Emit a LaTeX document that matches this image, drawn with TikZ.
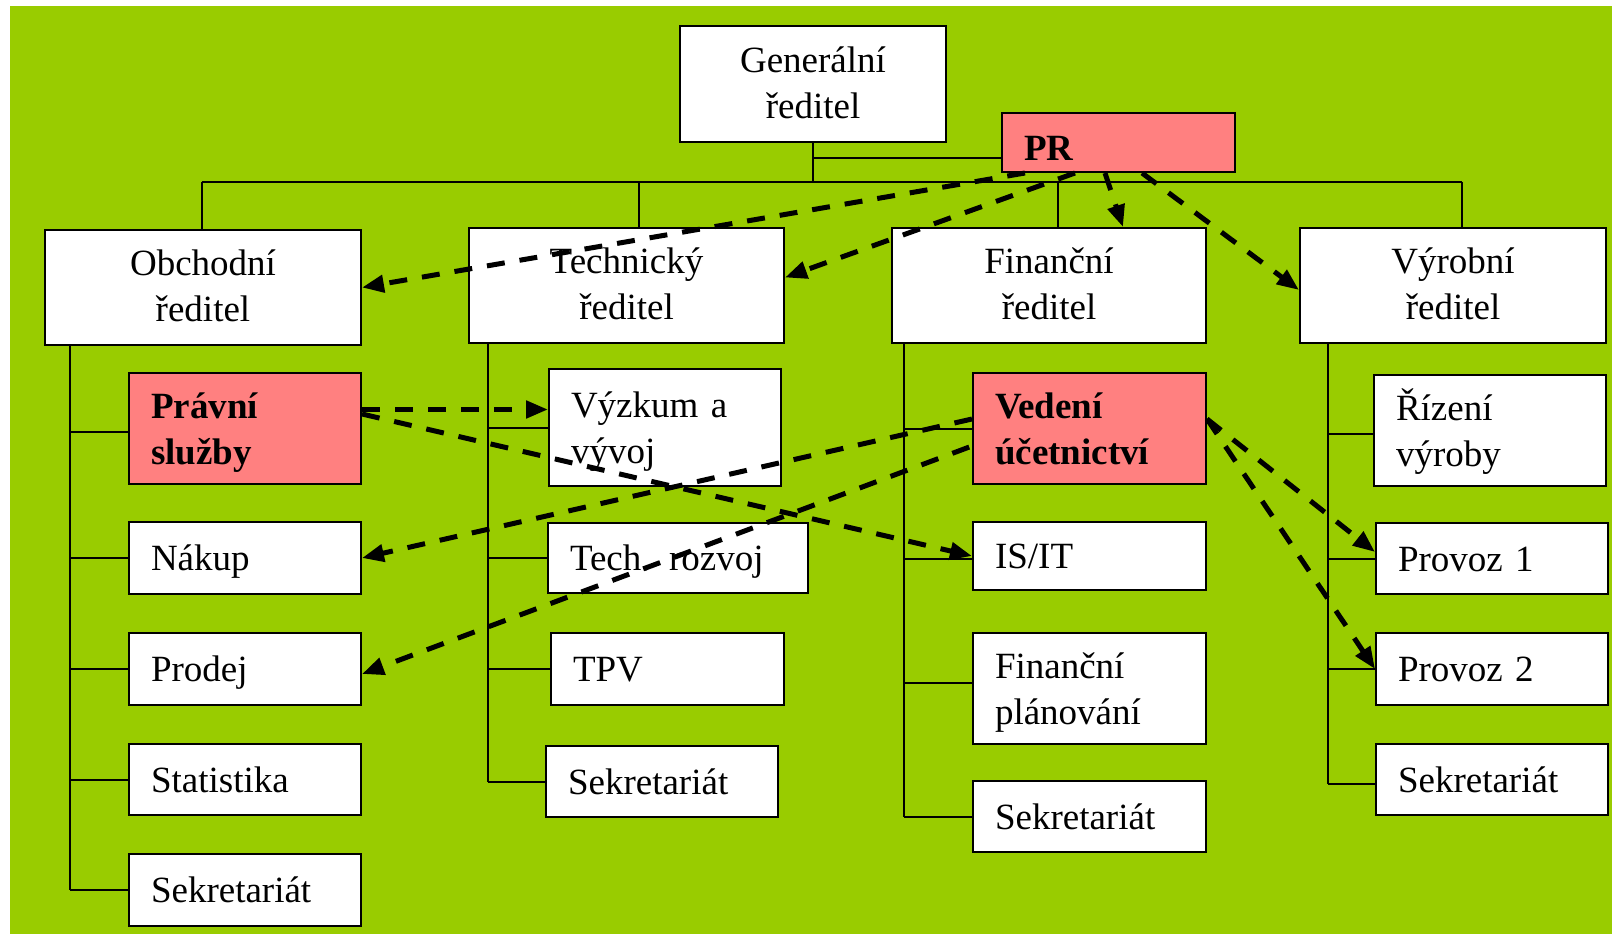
\documentclass[tikz,border=0pt]{standalone}
\usepackage{fontspec}
\setmainfont{Liberation Serif}
\usetikzlibrary{arrows.meta}
\definecolor{orgbg}{HTML}{99CC00}
\definecolor{orgpink}{HTML}{FF8080}
% fixed line struts so that every box places its baselines the same way
\newcommand\boxstrut{\rule[-8pt]{0pt}{41pt}}
\newcommand\headstrut{\rule[-3pt]{0pt}{41pt}}
\begin{document}
\begin{tikzpicture}[x=1pt,y=-1pt,
  every node/.style={font=\fontsize{37}{46}\selectfont},
  headbox/.style={draw, line width=2pt, fill=white, anchor=north west, inner sep=0pt, align=center,
    execute at begin node=\headstrut, execute at end node=\headstrut},
  unitbox/.style={draw, line width=2pt, fill=white, anchor=north west, inner xsep=22pt, inner ysep=0pt, align=left,
    execute at begin node=\boxstrut, execute at end node=\boxstrut},
  keybox/.style={unitbox, fill=orgpink, font=\fontsize{37}{46}\selectfont\bfseries},
  link/.style={line width=2pt},
  influence/.style={line width=5pt, dash pattern=on 18pt off 15pt, -{Triangle[length=22pt,width=17pt]}}
]
% canvas and background
\useasboundingbox (0,0) rectangle (1612,936);
\fill[white] (0,0) rectangle (1612,936);
\fill[orgbg] (10,6) rectangle (1612,934);

% bus and spine coordinates
\coordinate (jOb) at (201.5,182);
\coordinate (jTe) at (639,182);
\coordinate (jFi) at (1058,182);
\coordinate (jVy) at (1461.5,182);
\coordinate (xOb) at (70,0);
\coordinate (xTe) at (488,0);
\coordinate (xFi) at (904,0);
\coordinate (xVy) at (1328,0);

% top level
\node[headbox, minimum width=266pt, minimum height=116pt] (gr) at (679,25) {Generální\\ředitel};
\node[keybox, text width=189pt, minimum height=59pt,
  execute at begin node={}, execute at end node={}, text height=36pt, text depth=0pt] (pr) at (1001,112) {PR};

% directors
\node[headbox, minimum width=316pt, minimum height=115pt] (ob) at (44,229) {Obchodní\\ředitel};
\node[headbox, minimum width=315pt, minimum height=115pt] (te) at (468,227) {Technický\\ředitel};
\node[headbox, minimum width=314pt, minimum height=115pt] (fi) at (891,227) {Finanční\\ředitel};
\node[headbox, minimum width=306pt, minimum height=115pt] (vy) at (1299,227) {Výrobní\\ředitel};

% sales
\node[keybox, text width=188pt, minimum height=111pt] (prav) at (128,372) {Právní\\služby};
\node[unitbox, text width=188pt, minimum height=72pt] (nak) at (128,521) {Nákup};
\node[unitbox, text width=188pt, minimum height=72pt] (prod) at (128,632) {Prodej};
\node[unitbox, text width=188pt, minimum height=71pt] (stat) at (128,743) {Statistika};
\node[unitbox, text width=188pt, minimum height=72pt] (sek1) at (128,853) {Sekretariát};

% technical
\node[unitbox, text width=188pt, minimum height=117pt] (vyz) at (548,368) {Výzkum a\\vývoj};
\node[unitbox, text width=216pt, minimum height=70pt] (tro) at (547,522) {Tech. rozvoj};
\node[unitbox, text width=189pt, minimum height=72pt] (tpv) at (550,632) {TPV};
\node[unitbox, text width=188pt, minimum height=71pt] (sek2) at (545,745) {Sekretariát};

% finance
\node[keybox, text width=189pt, minimum height=111pt] (ved) at (972,372) {Vedení\\účetnictví};
\node[unitbox, text width=189pt, minimum height=68pt] (isit) at (972,521) {IS/IT};
\node[unitbox, text width=189pt, minimum height=111pt] (fpl) at (972,632) {Finanční\\plánování};
\node[unitbox, text width=189pt, minimum height=71pt] (sek3) at (972,780) {Sekretariát};

% production
\node[unitbox, text width=188pt, minimum height=111pt] (riz) at (1373,374) {Řízení\\výroby};
\node[unitbox, text width=188pt, minimum height=71pt] (pv1) at (1375,522) {Provoz 1};
\node[unitbox, text width=188pt, minimum height=72pt] (pv2) at (1375,632) {Provoz 2};
\node[unitbox, text width=188pt, minimum height=71pt] (sek4) at (1375,743) {Sekretariát};

% solid hierarchy lines
\coordinate (jPr) at ([yshift=-15pt]gr.south);
\draw[link] (gr.south) -- (gr.south |- jOb);
\draw[link] (jPr) -- (jPr -| pr.west);
\draw[link] (jOb) -- (jVy);
\draw[link] (jOb) -- (jOb |- ob.north);
\draw[link] (jTe) -- (jTe |- te.north);
\draw[link] (jFi) -- (jFi |- fi.north);
\draw[link] (jVy) -- (jVy |- vy.north);

% branch points
\coordinate (bPrav) at ([yshift=-3.5pt]prav.west);
\coordinate (bRiz) at ([yshift=-3.5pt]riz.west);
\coordinate (bIsit) at ([yshift=-3pt]isit.west);
\coordinate (bFpl) at ([yshift=5.5pt]fpl.west);
\coordinate (bSek4) at ([yshift=-4.5pt]sek4.west);

% sales spine
\draw[link] (xOb |- ob.south) -- (xOb |- sek1.west);
\draw[link] (xOb |- bPrav) -- (bPrav);
\draw[link] (xOb |- nak.west) -- (nak.west);
\draw[link] (xOb |- prod.west) -- (prod.west);
\draw[link] (xOb |- stat.west) -- (stat.west);
\draw[link] (xOb |- sek1.west) -- (sek1.west);

% technical spine
\draw[link] (xTe |- te.south) -- (xTe |- sek2.west);
\draw[link] (xTe |- vyz.west) -- (vyz.west);
\draw[link] (xTe |- tro.west) -- (tro.west);
\draw[link] (xTe |- tpv.west) -- (tpv.west);
\draw[link] (xTe |- sek2.west) -- (sek2.west);

% finance spine
\draw[link] (xFi |- fi.south) -- (xFi |- sek3.west);
\draw[link] (xFi |- ved.west) -- (ved.west);
\draw[link] (xFi |- bIsit) -- (bIsit);
\draw[link] (xFi |- bFpl) -- (bFpl);
\draw[link] (xFi |- sek3.west) -- (sek3.west);

% production spine
\draw[link] (xVy |- vy.south) -- (xVy |- bSek4);
\draw[link] (xVy |- bRiz) -- (bRiz);
\draw[link] (xVy |- pv1.west) -- (pv1.west);
\draw[link] (xVy |- pv2.west) -- (pv2.west);
\draw[link] (xVy |- bSek4) -- (bSek4);

% dashed lines of influence
\draw[influence] ([xshift=24pt]pr.south west) -- (ob.east);
\draw[influence] ([xshift=74pt]pr.south west) -- ([yshift=8pt]te.east);
\draw[influence] ([xshift=104pt]pr.south west) -- ([xshift=232pt]fi.north west);
\draw[influence] ([xshift=141pt]pr.south west) -- ([yshift=-4.5pt]vy.west);
\coordinate (pA) at ([yshift=19pt]prav.east);
\draw[influence] (pA) -- (pA -| vyz.west);
\draw[influence] ([yshift=14.5pt]prav.east) -- (isit.west);
\draw[influence] ([yshift=9.5pt]ved.west) -- (nak.east);
\draw[influence, dash phase=30pt] ([yshift=-17.5pt]ved.west) -- ([yshift=-5pt]prod.east);
\draw[influence] ([yshift=9.5pt]ved.east) -- ([yshift=6.5pt]pv1.west);
\draw[influence] ([yshift=9.5pt]ved.east) -- (pv2.west);
\end{tikzpicture}
\end{document}
